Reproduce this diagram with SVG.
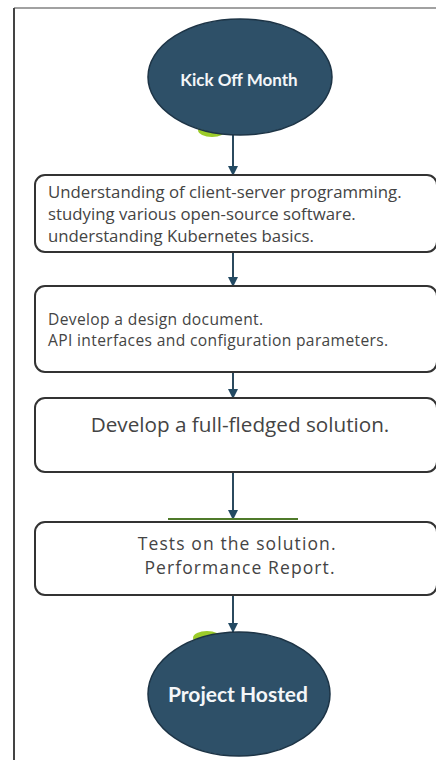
<svg xmlns="http://www.w3.org/2000/svg" width="436" height="760" viewBox="0 0 436 760">
  <defs>
    <marker id="arrow" viewBox="0 0 10 10" refX="10" refY="5" markerWidth="5" markerHeight="5" orient="auto" markerUnits="strokeWidth">
      <path d="M0,0 L10,5 L0,10 z" fill="#234a63"/>
    </marker>
    <style>
      .frame { stroke: #444; fill: none; }
      .oval { fill: #2e5068; stroke: #1d3446; stroke-width: 1.5; }
      .glow { fill: #9ccc2a; }
      .box { fill: #ffffff; stroke: #333; stroke-width: 2; }
      .edge { stroke: #2b4a5e; stroke-width: 2; fill: none; marker-end: url(#arrow); }
      .ovtext { font-family: "Lato", "Open Sans", sans-serif; font-weight: bold; fill: #f4f6f8; text-anchor: middle; }
      .btext { font-family: "Open Sans", "Noto Sans", sans-serif; fill: #444; }
      .ctext { text-anchor: middle; }
    </style>
  </defs>
  <rect width="436" height="760" fill="#ffffff"/>
  <g id="frame">
    <line class="frame" x1="14" y1="8" x2="436" y2="8" stroke-width="1.2"/>
    <line class="frame" x1="14" y1="8" x2="14" y2="760" stroke-width="2"/>
  </g>
  <g id="connectors">
    <line class="edge" x1="233" y1="135" x2="233" y2="176"/>
    <line class="edge" x1="233" y1="252" x2="233" y2="287"/>
    <line class="edge" x1="233" y1="372" x2="233" y2="399"/>
    <line class="edge" x1="233" y1="472" x2="233" y2="520"/>
    <line class="edge" x1="233" y1="595" x2="233" y2="633"/>
  </g>
  <g id="kickoff">
    <ellipse class="glow" cx="212" cy="130" rx="14" ry="7"/>
    <ellipse class="oval" cx="240" cy="77" rx="92" ry="58"/>
    <text class="ovtext" x="239" y="86" font-size="17">Kick Off Month</text>
  </g>
  <g id="step1">
    <rect class="box" x="35" y="175" width="402" height="77" rx="10"/>
    <text class="btext" font-size="16.8">
      <tspan x="48" y="198">Understanding of client-server programming.</tspan>
      <tspan x="48" y="220">studying various open-source software.</tspan>
      <tspan x="48" y="242">understanding Kubernetes basics.</tspan>
    </text>
  </g>
  <g id="step2">
    <rect class="box" x="35" y="286" width="402" height="86" rx="10"/>
    <text class="btext" font-size="15.6" letter-spacing="0.35">
      <tspan x="48" y="325">Develop a design document.</tspan>
      <tspan x="48" y="346">API interfaces and configuration parameters.</tspan>
    </text>
  </g>
  <g id="step3">
    <rect class="box" x="35" y="398" width="402" height="74" rx="10"/>
    <text class="btext ctext" x="240" y="432" font-size="20.7">Develop a full-fledged solution.</text>
  </g>
  <g id="step4">
    <line x1="168" y1="519" x2="298" y2="519" stroke="#4f7a2a" stroke-width="2"/>
    <rect class="box" x="35" y="522" width="402" height="73" rx="10"/>
    <text class="btext ctext" font-size="17.5" letter-spacing="1.1">
      <tspan x="240" y="550">Tests on the solution.</tspan>
      <tspan x="240" y="574">Performance Report.</tspan>
    </text>
  </g>
  <g id="hosted">
    <ellipse class="glow" cx="207" cy="638" rx="14" ry="7"/>
    <ellipse class="oval" cx="239" cy="694" rx="91" ry="62"/>
    <text class="ovtext" x="238" y="702" font-size="21" font-family="Open Sans, sans-serif">Project Hosted</text>
  </g>
</svg>
